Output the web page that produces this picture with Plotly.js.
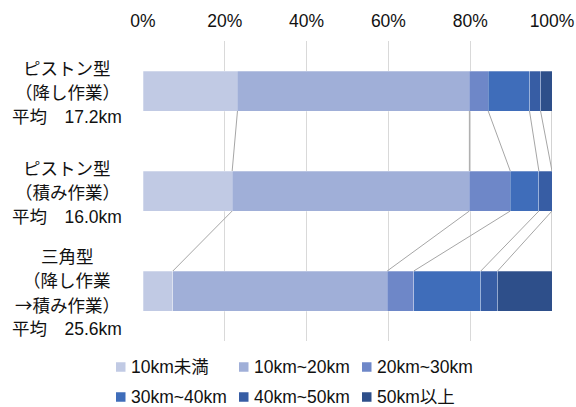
<!DOCTYPE html>
<html>
<head>
<meta charset="utf-8">
<script src="https://cdn.plot.ly/plotly-3.0.1.min.js"></script>
<style>
  html, body { margin: 0; padding: 0; background: #fff; }
  #chart { width: 576px; height: 407px; }
</style>
</head>
<body>
<div id="chart"></div>
<script>
// Row labels (top to bottom), one string per line
const categories = [
  ['ピストン型', '（降し作業）', '平均　17.2km'],
  ['ピストン型', '（積み作業）', '平均　16.0km'],
  ['三角型', '（降し作業', '<span style="font-family:\'Noto Sans CJK JP\'">→</span>積み作業）', '平均　25.6km']
];

// Distance bands (legend order)
const bands = ['10km未満', '10km~20km', '20km~30km', '30km~40km', '40km~50km', '50km以上'];

// Share of trips in each band, % (one array per band, rows in category order)
const under10 = [23.1, 21.8, 7.3];
const from10to20 = [56.7, 58.0, 52.4];
const from20to30 = [4.6, 10.0, 6.5];
const from30to40 = [10.1, 7.0, 16.4];
const from40to50 = [2.7, 3.2, 4.1];
const over50 = [2.8, 0.0, 13.3];

const tickVals = [0, 20, 40, 60, 80, 100];
const tickLabels = ['0%', '20%', '40%', '60%', '80%', '100%'];

const series = [under10, from10to20, from20to30, from30to40, from40to50, over50];
const colors = ['#c1cae4', '#a0afd8', '#6e87c8', '#3f6dba', '#375da4', '#2e4f8a'];

const FONT = 'Liberation Sans, Arial, "Noto Sans CJK JP", sans-serif';
const TEXT = '#111111';
const rows = categories.map((_, i) => i);
const barWidth = 0.4;

const traces = series.map((vals, k) => ({
  type: 'bar',
  orientation: 'h',
  name: bands[k],
  x: vals,
  y: rows,
  width: barWidth,
  showlegend: false,
  marker: { color: colors[k], line: { width: 0.6, color: 'rgba(255,255,255,0.45)' } },
  hoverinfo: 'skip'
}));

// Series lines joining each cumulative boundary between neighbouring bars
const cum = rows.map(r => {
  let s = 0;
  return series.map(v => (s += v[r]));
});
const lx = [], ly = [];
for (let r = 0; r < rows.length - 1; r++) {
  for (let k = 0; k < series.length; k++) {
    lx.push(cum[r][k], cum[r + 1][k], null);
    ly.push(r + barWidth / 2, r + 1 - barWidth / 2, null);
  }
}
traces.push({
  type: 'scatter',
  mode: 'lines',
  x: lx,
  y: ly,
  line: { color: '#a6a6a6', width: 1 },
  showlegend: false,
  hoverinfo: 'skip'
});

// Plot-area geometry in pixels, used to place margin items in paper units
const PLOT_L = 143, PLOT_T = 41, PLOT_W = 409, PLOT_H = 300;
const px2x = px => (px - PLOT_L) / PLOT_W;
const py2y = py => (PLOT_T + PLOT_H - py) / PLOT_H;

// Row labels, centred in the left margin, one annotation per line
const LINE_H = 24;
const annotations = [];
categories.forEach((lines, i) => {
  lines.forEach((t, j) => {
    annotations.push({
      text: t,
      xref: 'paper',
      yref: 'y',
      x: px2x(67),
      y: i,
      yshift: -((j - (lines.length - 1) / 2) * LINE_H + 1.5),
      xanchor: 'center',
      yanchor: 'middle',
      showarrow: false,
      font: { family: FONT, size: 17.5, color: TEXT }
    });
  });
});

// Legend: three entries per row, small square swatch then label
const shapes = [];
const COL_X = [116, 239, 362];
const ROW_Y = [367, 397];
const SW = 9.5;
bands.forEach((b, k) => {
  const cx = COL_X[k % 3];
  const cy = ROW_Y[Math.floor(k / 3)];
  shapes.push({
    type: 'rect',
    xref: 'paper', yref: 'paper',
    x0: px2x(cx), x1: px2x(cx + SW),
    y0: py2y(cy - SW / 2), y1: py2y(cy + SW / 2),
    fillcolor: colors[k],
    line: { width: 0 }
  });
  annotations.push({
    text: b,
    xref: 'paper', yref: 'paper',
    x: px2x(cx + SW + 3.5),
    y: py2y(cy),
    xanchor: 'left',
    yanchor: 'middle',
    showarrow: false,
    font: { family: FONT, size: 17.5, color: TEXT }
  });
});

const layout = {
  width: 576,
  height: 407,
  margin: { l: PLOT_L, r: 576 - PLOT_L - PLOT_W, t: PLOT_T, b: 407 - PLOT_T - PLOT_H, autoexpand: false },
  paper_bgcolor: '#ffffff',
  plot_bgcolor: '#ffffff',
  barmode: 'stack',
  showlegend: false,
  font: { family: FONT, size: 17.5, color: TEXT },
  xaxis: {
    side: 'top',
    range: [0, 100],
    tickvals: tickVals,
    ticktext: tickLabels,
    ticklabelstandoff: 10,
    showgrid: true,
    gridcolor: '#d9d9d9',
    gridwidth: 1,
    zeroline: false,
    showline: false,
    ticks: '',
    fixedrange: true,
    tickfont: { family: FONT, size: 17.5, color: TEXT }
  },
  yaxis: {
    range: [2.5, -0.5],
    showticklabels: false,
    showgrid: false,
    zeroline: false,
    ticks: '',
    fixedrange: true
  },
  shapes: shapes,
  annotations: annotations
};

Plotly.newPlot('chart', traces, layout, { displayModeBar: false, staticPlot: true });
</script>
</body>
</html>
